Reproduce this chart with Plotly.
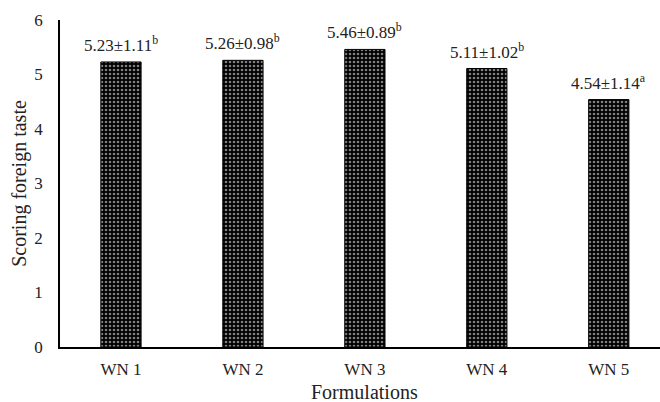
import plotly.graph_objects as go

formulations = ["WN 1", "WN 2", "WN 3", "WN 4", "WN 5"]
means = [5.23, 5.26, 5.46, 5.11, 4.54]
sds = [1.11, 0.98, 0.89, 1.02, 1.14]
letters = ["b", "b", "b", "b", "a"]

FONT = "Liberation Serif, Times New Roman, serif"
TEXT_COLOR = "#222222"

fig = go.Figure()
fig.add_trace(go.Bar(
    x=formulations,
    y=means,
    width=0.33,
    marker=dict(
        color="black",
        line=dict(color="black", width=1),
        pattern=dict(shape=".", bgcolor="black", fgcolor="white",
                     size=4, solidity=0.35, fillmode="overlay"),
    ),
    showlegend=False,
))

# mean ± SD labels with significance letters above each bar
for f, m, s, l in zip(formulations, means, sds, letters):
    fig.add_annotation(
        x=f, y=m, yanchor="bottom", yshift=5, showarrow=False,
        text=f"{m:.2f}±{s:.2f}<sup>{l}</sup>",
        font=dict(family=FONT, size=17, color=TEXT_COLOR),
    )

title_font = dict(family=FONT, size=20, color=TEXT_COLOR)

# x-axis title, centred under the middle formulation
fig.add_annotation(
    x=2, xref="x", y=-0.138, yref="paper", yanchor="middle",
    showarrow=False, text="Formulations", font=title_font,
)

fig.update_layout(
    width=660, height=402,
    margin=dict(l=60, r=0, t=20, b=55),
    paper_bgcolor="white", plot_bgcolor="white",
    font=dict(family=FONT, size=17, color=TEXT_COLOR),
    bargap=0.67,
    xaxis=dict(
        range=[-0.5, 4.42], showline=True, linecolor="black", linewidth=1.5,
        ticks="", showgrid=False, zeroline=False, ticklabelstandoff=6,
        tickfont=dict(family=FONT, size=17, color=TEXT_COLOR),
    ),
    yaxis=dict(
        range=[0, 6], dtick=1, showline=True, linecolor="black", linewidth=1.5,
        ticks="", showgrid=False, zeroline=False, ticklabelstandoff=12,
        tickfont=dict(family=FONT, size=17, color=TEXT_COLOR),
        title=dict(text="Scoring foreign taste", standoff=2, font=title_font),
    ),
)

fig.write_html("out.html")
